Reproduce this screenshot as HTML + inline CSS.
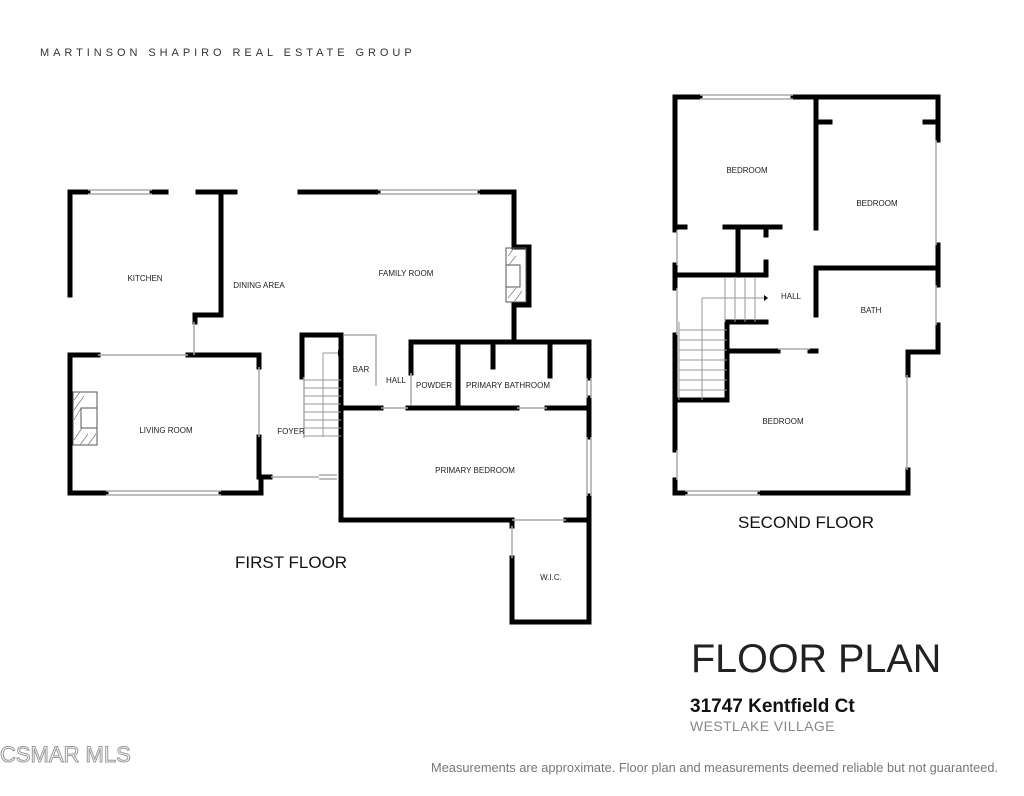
<!DOCTYPE html>
<html><head><meta charset="utf-8"><style>
body{margin:0;background:#fff;width:1024px;height:791px;overflow:hidden;font-family:"Liberation Sans",sans-serif}
</style></head><body>
<svg width="1024" height="791" xmlns="http://www.w3.org/2000/svg" font-family="Liberation Sans, sans-serif">
<rect width="1024" height="791" fill="#fff"/>
<text x="40" y="56" font-size="11" letter-spacing="3.95" fill="#333">MARTINSON SHAPIRO REAL ESTATE GROUP</text>
<g stroke="#000" stroke-width="5" fill="none" stroke-linecap="square">
<!-- first floor -->
<path d="M70 192H88M152 192H166M198 192H235M300 192H378M480 192H514V247H529V305H514V342"/>
<path d="M70 192V295M70 355V493H106M221 493H261V477H270"/>
<path d="M221 192V315H195V322"/>
<path d="M70 355H98M188 355H259V367M259 437V477"/>
<path d="M302 377V335H341V520H512M566 520H589V520M589 342V378M589 398V437M589 496V520"/>
<path d="M411 342H589M411 342V373M458 342V408M493 342V367M550 342V376M341 408H381M408 408H517M547 408H589M512 520V526M512 558V622H589V520"/>
</g>
<g stroke="#aaa" stroke-width="1.5" fill="none">
<path d="M88 190H152M88 194H152M378 190H480M378 194H480M106 491H221M106 495H221M319 475H337M319 479H337M271 477H319"/>
<path d="M587 378V398M591 378V398M587 437V496M591 437V496M512 526V558M194 322V355M259 367V437M98 355H188M411 373V405M517 408H547M381 408H408M512 520H566"/>
<path d="M344 335H376V386M304 377V438"/>
</g>
<g stroke="#999" stroke-width="1" fill="none">
<path d="M304 380H341M304 388H341M304 396H341M304 404H341M304 412H341M304 420H341M304 428H341M304 436H341M323 353V437M323 353H340"/>
</g>
<path d="M338 350L342 353L338 356Z" fill="#000"/>
<g stroke="#555" fill="none" stroke-width="1">
<rect x="73" y="392" width="24" height="53"/><rect x="81" y="408" width="16" height="20"/>
<rect x="506" y="248" width="20" height="54"/><rect x="506" y="265" width="14" height="22"/>
</g>
<g stroke="#777" stroke-width="0.7">
<path d="M74 400L80 392M74 410L84 396M74 420L81 408M74 440L82 428M80 445L88 434M88 445L96 434M508 256L514 248M508 266L516 256M508 298L516 288M514 302L522 291"/>
</g>
<g font-size="8" fill="#222" text-anchor="middle">
<text x="145" y="281">KITCHEN</text><text x="259" y="288">DINING AREA</text><text x="406" y="276">FAMILY ROOM</text>
<text x="166" y="433">LIVING ROOM</text><text x="291" y="434">FOYER</text><text x="361" y="372">BAR</text>
<text x="396" y="383">HALL</text><text x="434" y="388">POWDER</text><text x="508" y="388">PRIMARY BATHROOM</text>
<text x="475" y="473">PRIMARY BEDROOM</text><text x="551" y="580">W.I.C.</text>
</g>
<text x="235" y="568" font-size="17" fill="#111">FIRST FLOOR</text>
<!-- second floor -->
<g stroke="#000" stroke-width="5" fill="none" stroke-linecap="square">
<path d="M700 97H675V230M675 265V288M675 335V450M675 480V493H685M760 493H908V470M908 375V352H938V325M938 285V245M938 140V97H793"/>
<path d="M816 97V228M816 122H830M925 122H938M816 268H938M816 268V315M778 351H727V400M675 400H727M727 322V351"/>
<path d="M675 227H685M725 227H780M738 227V275M675 275H766M766 228V235M766 262V275M727 322H766M810 351H816"/>
</g>
<g stroke="#aaa" stroke-width="1.5" fill="none">
<path d="M700 95H793M700 99H793M677 230V265M677 288V335M677 450V480M685 491H760M685 495H760M936 140V245M936 285V325M907 375V470M778 349H810"/>
</g>
<g stroke="#999" stroke-width="1">
<path d="M725 277V322M735 277V322M745 277V322M755 277V322M702 298H766M679 322V400M679 330H727M679 340H727M679 350H727M679 360H727M679 370H727M679 380H727M679 390H727M702 298V400"/>
</g>
<path d="M764 295L768 298L764 301Z" fill="#000"/>
<g font-size="8" fill="#222" text-anchor="middle">
<text x="747" y="173">BEDROOM</text><text x="877" y="206">BEDROOM</text><text x="791" y="299">HALL</text>
<text x="871" y="313">BATH</text><text x="783" y="424">BEDROOM</text>
</g>
<text x="738" y="528" font-size="17" fill="#111">SECOND FLOOR</text>
<text x="691" y="672" font-size="39.5" fill="#222">FLOOR PLAN</text>
<text x="690" y="712" font-size="19" font-weight="bold" fill="#111">31747 Kentfield Ct</text>
<text x="690" y="731" font-size="14" fill="#888" letter-spacing="0.4">WESTLAKE VILLAGE</text>
<text x="998" y="772" font-size="12.8" fill="#777" text-anchor="end">Measurements are approximate. Floor plan and measurements deemed reliable but not guaranteed.</text>
<text x="0" y="762" font-size="22" fill="none" stroke="#999" stroke-width="1">CSMAR MLS</text>
</svg>
</body></html>
